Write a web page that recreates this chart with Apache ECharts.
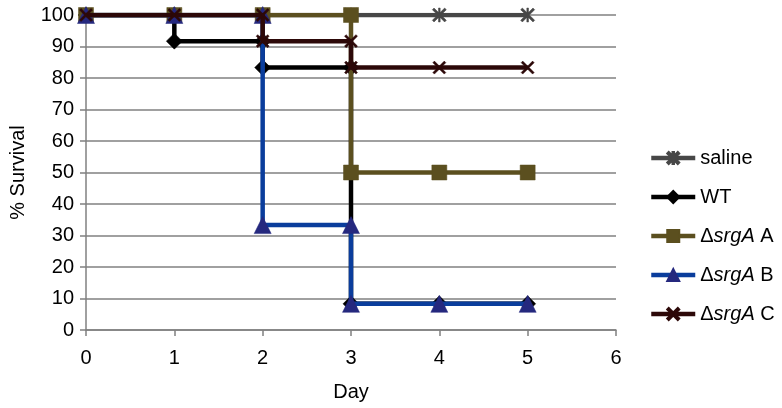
<!DOCTYPE html>
<html><head><meta charset="utf-8">
<script src="https://cdn.jsdelivr.net/npm/echarts@6/dist/echarts.min.js"></script>
<style>html,body{margin:0;padding:0;background:#fff}#c{width:782px;height:408px}</style>
</head><body><div id="c"></div>
<script>
var seriesNames = ['saline', 'WT', 'ΔsrgA A', 'ΔsrgA B', 'ΔsrgA C'];
var salineDays = [0, 1, 2, 3, 4, 5];
var salineVals = [100, 100, 100, 100, 100, 100];
var wtDays = [0, 1, 1, 2, 2, 3, 3, 4, 5];
var wtVals = [100, 100, 91.7, 91.7, 83.3, 83.3, 8.3, 8.3, 8.3];
var aDays = [0, 1, 2, 3, 3, 4, 5];
var aVals = [100, 100, 100, 100, 50, 50, 50];
var bDays = [0, 1, 2, 2, 3, 3, 4, 5];
var bVals = [100, 100, 100, 33.3, 33.3, 8.3, 8.3, 8.3];
var cDays = [0, 1, 2, 2, 3, 3, 4, 5];
var cVals = [100, 100, 100, 91.7, 91.7, 83.3, 83.3, 83.3];
var xTicks = [0, 1, 2, 3, 4, 5, 6];
var yTicks = [0, 10, 20, 30, 40, 50, 60, 70, 80, 90, 100];

function pairs(xs, ys) { return xs.map(function (x, i) { return [x, ys[i]]; }); }

var crossPath = 'path://M0,1.2 L1.2,0 L5,3.8 L8.8,0 L10,1.2 L6.2,5 L10,8.8 L8.8,10 L5,6.2 L1.2,10 L0,8.8 L3.8,5 Z';
var starPath = 'path://M0,1.2 L1.2,0 L5,3.8 L8.8,0 L10,1.2 L6.2,5 L10,8.8 L8.8,10 L5,6.2 L1.2,10 L0,8.8 L3.8,5 Z M4.4,0 L5.6,0 L5.6,10 L4.4,10 Z';

var font = '"Liberation Sans", Arial, sans-serif';
var fs = 20;
function mk(name, xs, ys, color, symbol, size, symColor, z) {
  return {
    name: name, type: 'line', data: pairs(xs, ys), z: z,
    symbol: symbol, symbolSize: size, showAllSymbol: true,
    lineStyle: { color: color, width: 4.5 },
    itemStyle: { color: symColor || color, borderColor: symColor || color, borderWidth: 0.5 },
    emphasis: { disabled: true }, animation: false
  };
}

var chart = echarts.init(document.getElementById('c'));
chart.setOption({
  animation: false,
  grid: { left: 86, right: 166, top: 15, bottom: 78, containLabel: false, outerBoundsMode: 'none' },
  xAxis: {
    type: 'value', min: 0, max: 6, interval: 1,
    name: 'Day', nameLocation: 'middle', nameGap: 52,
    nameTextStyle: { fontFamily: font, fontSize: fs, color: '#000' },
    axisLine: { show: true, onZero: false, lineStyle: { color: '#808080', width: 1.5 } },
    axisTick: { show: true, length: 6, lineStyle: { color: '#808080', width: 1.5 } },
    axisLabel: { fontFamily: font, fontSize: fs, color: '#000', margin: 18,
      formatter: function (v) { return xTicks.indexOf(v) >= 0 ? String(v) : ''; } },
    splitLine: { show: false }
  },
  yAxis: {
    type: 'value', min: 0, max: 100, interval: 10,
    name: '% Survival', nameLocation: 'middle', nameGap: 58, nameRotate: 90,
    nameTextStyle: { fontFamily: font, fontSize: fs, color: '#000' },
    axisLine: { show: true, lineStyle: { color: '#808080', width: 1.5 } },
    axisTick: { show: true, length: 6, lineStyle: { color: '#808080', width: 1.5 } },
    axisLabel: { fontFamily: font, fontSize: fs, color: '#000', margin: 12,
      formatter: function (v) { return yTicks.indexOf(v) >= 0 ? String(v) : ''; } },
    splitLine: { show: true, lineStyle: { color: '#808080', width: 1.5 } }
  },
  legend: {
    orient: 'vertical', left: 644, top: 143, itemWidth: 44, itemHeight: 15, itemGap: 19,
    data: seriesNames,
    lineStyle: { width: 4.5 },
    textStyle: { fontFamily: font, fontSize: fs, color: '#000',
      rich: {
        n: { fontFamily: font, fontSize: fs, color: '#000' },
        i: { fontFamily: font, fontSize: fs, color: '#000', fontStyle: 'italic' }
      } },
    formatter: function (name) {
      if (name.indexOf('Δ') === 0) {
        var parts = name.slice(1).split(' ');
        return '{n|Δ}{i|' + parts[0] + '}{n| ' + parts[1] + '}';
      }
      return name;
    }
  },
  series: [
    mk(seriesNames[0], salineDays, salineVals, '#474747', starPath, 14, '#474747', 2),
    mk(seriesNames[1], wtDays, wtVals, '#000000', 'diamond', 16, '#000000', 3),
    mk(seriesNames[2], aDays, aVals, '#5b4f1f', 'rect', 15, '#5b4f1f', 4),
    mk(seriesNames[3], bDays, bVals, '#0a3d9c', 'triangle', 17, '#25287e', 5),
    mk(seriesNames[4], cDays, cVals, '#2c0808', crossPath, 13, '#2c0808', 6)
  ]
});
</script></body></html>
